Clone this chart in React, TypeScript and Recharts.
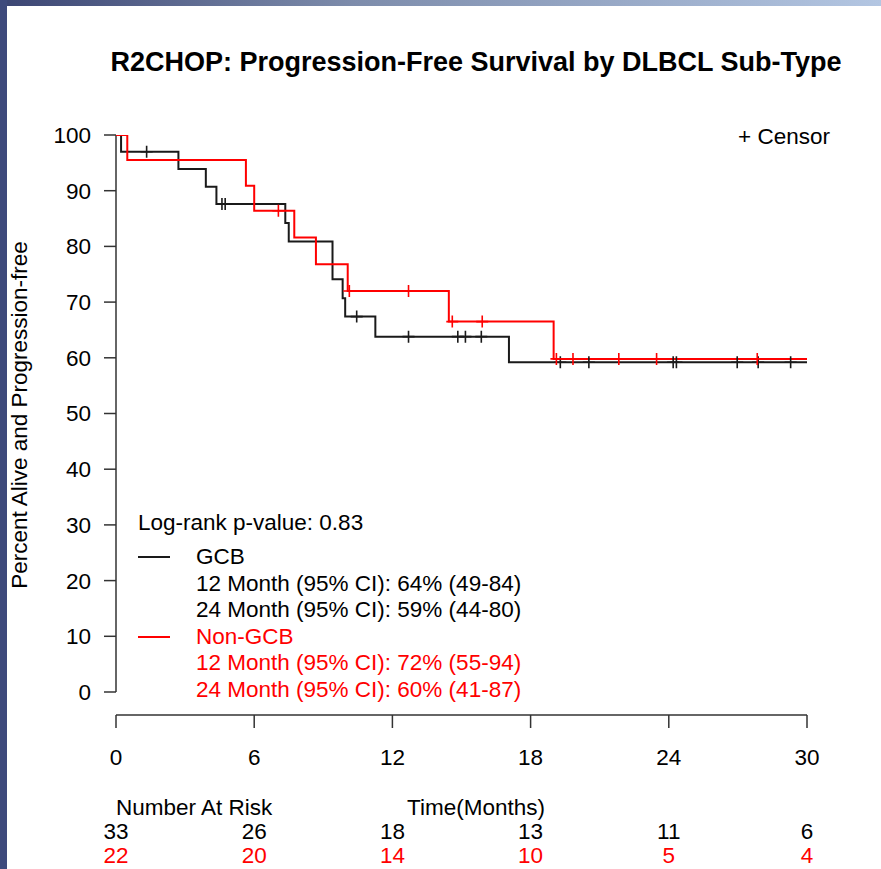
import React from "react";
import {
  ComposedChart,
  Line,
  ReferenceLine,
  Scatter,
  XAxis,
  YAxis,
} from "recharts";

const FONT = "'Liberation Sans', Arial, Helvetica, sans-serif";
const FONT_SIZE = 22.5;
const RED = "#ff0000";
const INK = "#1a1a1a";

const monthTicks = [0, 6, 12, 18, 24, 30];
const percentTicks = [0, 10, 20, 30, 40, 50, 60, 70, 80, 90, 100];

// GCB: months at each step, survival (%) from that step on
const gcbTimes = [0, 0.22, 2.71, 3.9, 4.36, 7.35, 7.5, 9.4, 9.84, 9.95, 11.26, 17.06, 30];
const gcbSurvival = [100, 97.0, 93.9, 90.7, 87.6, 84.2, 80.9, 74.1, 70.7, 67.4, 63.8, 59.2, 59.2];
const gcbCensored = [
  1.33, 4.6, 4.74, 10.45, 12.7, 14.84, 15.17, 15.86, 19.29, 20.53, 24.19, 24.33, 26.97, 27.88, 29.29,
];
const gcbAtRisk = [33, 26, 18, 13, 11, 6];
const gcbEstimates = ["12 Month (95% CI): 64% (49-84)", "24 Month (95% CI): 59% (44-80)"];

// Non-GCB
const nonGcbTimes = [0, 0.49, 5.64, 6.0, 7.74, 8.68, 10.06, 14.45, 19.0, 30];
const nonGcbSurvival = [100, 95.5, 90.9, 86.4, 81.6, 76.8, 72.0, 66.5, 59.8, 59.8];
const nonGcbCensored = [7.05, 10.13, 12.7, 14.6, 15.9, 19.12, 19.84, 21.83, 23.47, 27.84];
const nonGcbAtRisk = [22, 20, 14, 10, 5, 4];
const nonGcbEstimates = ["12 Month (95% CI): 72% (55-94)", "24 Month (95% CI): 60% (41-87)"];

const logRankP = "0.83";

type Pt = { t: number; s: number };

const toSteps = (times: number[], surv: number[]): Pt[] =>
  times.map((t, i) => ({ t, s: surv[i] }));

function survivalAt(times: number[], surv: number[], t: number) {
  let s = surv[0];
  times.forEach((ti, i) => {
    if (ti <= t) s = surv[i];
  });
  return s;
}

const toCensors = (times: number[], surv: number[], censored: number[]): Pt[] =>
  censored.map((t) => ({ t, s: survivalAt(times, surv, t) }));

const gcbSteps = toSteps(gcbTimes, gcbSurvival);
const nonGcbSteps = toSteps(nonGcbTimes, nonGcbSurvival);
const gcbMarks = toCensors(gcbTimes, gcbSurvival, gcbCensored);
const nonGcbMarks = toCensors(nonGcbTimes, nonGcbSurvival, nonGcbCensored);

const censorShape = (color: string) => (props: any) => {
  const { cx, cy } = props;
  return (
    <path
      d={`M${cx - 6},${cy}H${cx + 6}M${cx},${cy - 6}V${cy + 6}`}
      stroke={color}
      strokeWidth={1.6}
      fill="none"
    />
  );
};

// month label plus the two number-at-risk rows underneath it
function MonthTick(props: any) {
  const { x, y, payload } = props;
  const i = monthTicks.indexOf(payload.value);
  return (
    <g fontFamily={FONT} fontSize={FONT_SIZE} textAnchor="middle">
      <text x={x} y={y + 29} dy="0.355em" fill="#000">
        {payload.value}
      </text>
      <text x={x} y={y + 103} dy="0.355em" fill="#000">
        {gcbAtRisk[i]}
      </text>
      <text x={x} y={y + 127} dy="0.355em" fill={RED}>
        {nonGcbAtRisk[i]}
      </text>
    </g>
  );
}

const textAt = (left: number, center: number, color = "#000"): React.CSSProperties => ({
  position: "absolute",
  left,
  top: center - 13,
  height: 26,
  lineHeight: "26px",
  fontSize: FONT_SIZE,
  color,
  whiteSpace: "nowrap",
});

const swatch = (center: number, color: string): React.CSSProperties => ({
  position: "absolute",
  left: 138,
  top: center - 1,
  width: 32,
  height: 2,
  background: color,
});

export default function App() {
  const rowGap = 26.6;
  const first = 557;
  return (
    <div
      style={{
        position: "absolute",
        left: 0,
        top: 0,
        width: 881,
        height: 869,
        background: "#fff",
        fontFamily: FONT,
        overflow: "hidden",
      }}
    >
      <div
        style={{
          position: "absolute",
          left: 0,
          top: 0,
          width: 881,
          height: 6,
          background: "linear-gradient(to right, #3b4573, #7d8cab 40%, #b3c6e2)",
        }}
      />
      <div
        style={{ position: "absolute", left: 0, top: 0, width: 7, height: 869, background: "#3e4a7c" }}
      />

      <ComposedChart
        width={881}
        height={869}
        margin={{ top: 135, right: 74, bottom: 0, left: 0 }}
        style={{ position: "absolute", left: 0, top: 0 }}
      >
        <XAxis
          dataKey="t"
          type="number"
          domain={[0, 30]}
          ticks={monthTicks}
          interval={0}
          allowDataOverflow
          height={154}
          tickSize={13}
          tickMargin={0}
          axisLine={{ stroke: "#333", strokeWidth: 1.5 }}
          tickLine={{ stroke: "#333", strokeWidth: 1.5 }}
          tick={<MonthTick />}
        />
        <YAxis
          type="number"
          domain={[-4.13, 100]}
          ticks={percentTicks}
          interval={0}
          allowDataOverflow
          width={116}
          tickSize={12}
          tickMargin={13}
          axisLine={false}
          tickLine={{ stroke: "#333", strokeWidth: 1.5 }}
          tick={{ fill: "#000", fontSize: FONT_SIZE, fontFamily: FONT }}
        />
        <ReferenceLine
          segment={[
            { x: 0, y: 0 },
            { x: 0, y: 100 },
          ]}
          stroke="#333"
          strokeWidth={1.5}
        />
        <Line
          data={gcbSteps}
          dataKey="s"
          type="stepAfter"
          stroke={INK}
          strokeWidth={2}
          dot={false}
          activeDot={false}
          isAnimationActive={false}
        />
        <Line
          data={nonGcbSteps}
          dataKey="s"
          type="stepAfter"
          stroke={RED}
          strokeWidth={2}
          dot={false}
          activeDot={false}
          isAnimationActive={false}
        />
        <Scatter
          data={gcbMarks}
          dataKey="s"
          shape={censorShape(INK)}
          isAnimationActive={false}
        />
        <Scatter
          data={nonGcbMarks}
          dataKey="s"
          shape={censorShape(RED)}
          isAnimationActive={false}
        />
      </ComposedChart>

      <div
        style={{
          position: "absolute",
          left: 0,
          width: 952,
          top: 47,
          textAlign: "center",
          fontSize: 27,
          fontWeight: "bold",
          lineHeight: "30px",
        }}
      >
        R2CHOP: Progression-Free Survival by DLBCL Sub-Type
      </div>

      <div
        style={{
          position: "absolute",
          left: 20,
          top: 415,
          fontSize: FONT_SIZE,
          whiteSpace: "nowrap",
          transform: "translate(-50%, -50%) rotate(-90deg)",
        }}
      >
        Percent Alive and Progression-free
      </div>

      <div style={textAt(738, 137)}>+ Censor</div>

      <div style={textAt(138, 523)}>Log-rank p-value: {logRankP}</div>
      <div style={swatch(first, INK)} />
      <div style={textAt(196, first)}>GCB</div>
      {gcbEstimates.map((s, i) => (
        <div key={s} style={textAt(196, first + rowGap * (i + 1))}>
          {s}
        </div>
      ))}
      <div style={swatch(first + rowGap * 3, RED)} />
      <div style={textAt(196, first + rowGap * 3, RED)}>Non-GCB</div>
      {nonGcbEstimates.map((s, i) => (
        <div key={s} style={textAt(196, first + rowGap * (i + 4), RED)}>
          {s}
        </div>
      ))}

      <div style={textAt(116, 808)}>Number At Risk</div>
      <div style={textAt(407, 808)}>Time(Months)</div>
    </div>
  );
}
